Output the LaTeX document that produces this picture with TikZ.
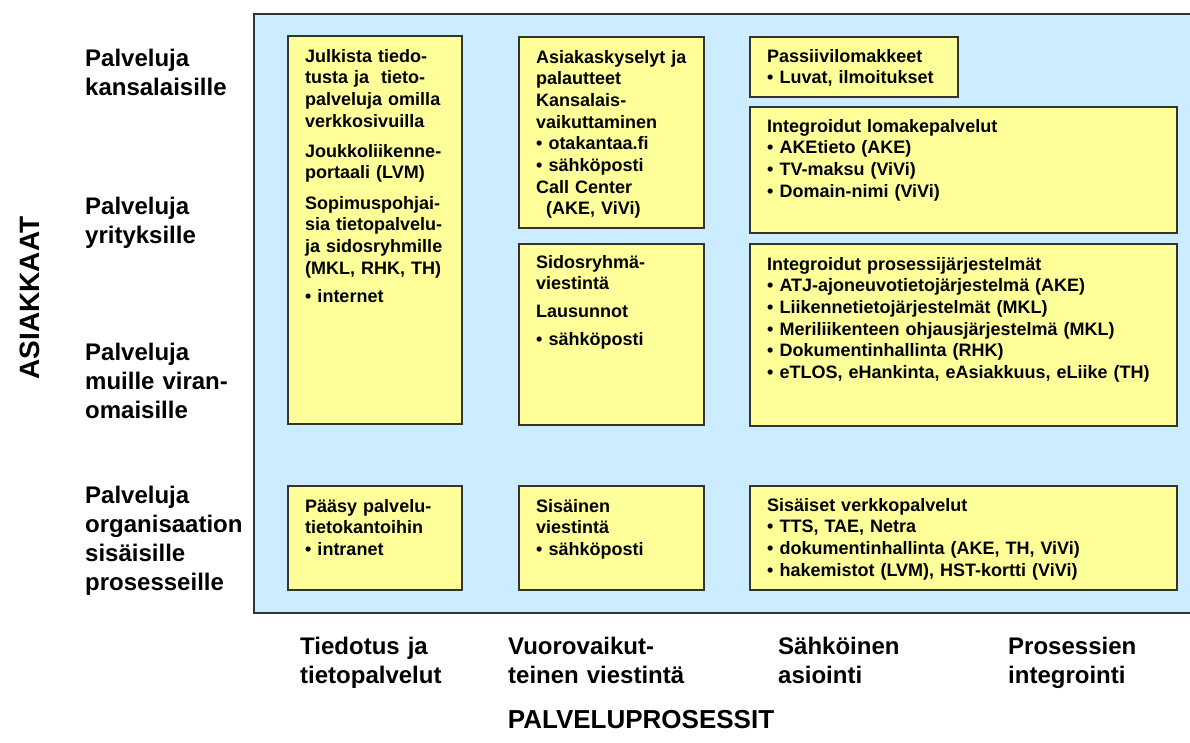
\documentclass[tikz,border=0pt]{standalone}
\usepackage{fontspec}
\setmainfont{Liberation Sans}
\definecolor{panelblue}{HTML}{CCECFF}
\definecolor{noteyellow}{HTML}{FFFF99}
\definecolor{edgegray}{HTML}{333333}
\begin{document}
\begin{tikzpicture}[x=1pt,y=-1pt,
  cell/.style={draw=edgegray, line width=1.4pt, fill=noteyellow, anchor=north west, inner sep=0pt, outer sep=0pt},
  celltext/.style={anchor=base west, inner sep=0pt, text width=420pt, align=left,
    font=\fontsize{18}{21.7}\selectfont\bfseries},
  rowlabel/.style={anchor=base west, inner sep=0pt, text width=180pt, align=left,
    font=\fontsize{24}{29}\selectfont\bfseries},
  collabel/.style={anchor=base west, inner sep=0pt, text width=200pt, align=left,
    font=\fontsize{24}{29.5}\selectfont\bfseries},
  axislabel/.style={inner sep=0pt, font=\fontsize{26}{30}\selectfont\bfseries}]

\clip (0,0) rectangle (1190,742);
\fill[white] (0,0) rectangle (1190,742);

% blue field holding the service matrix
\path[fill=panelblue, draw=edgegray, line width=2pt] (254,14) rectangle (1210,613);

% column 1: Tiedotus ja tietopalvelut
\node[cell, minimum width=174pt, minimum height=388pt] (c11) at (288,36) {};
\node[celltext] (c11t) at (305,62) {Julkista tiedo-\\tusta ja\ \ tieto-\\palveluja omilla\\verkkosivuilla\\[8.4pt]
  Joukkoliikenne-\\portaali (LVM)\\[8.4pt]
  Sopimuspohjai-\\sia tietopalvelu-\\ja sidosryhmille\\(MKL, RHK, TH)\\[6.5pt]
  • internet};

\node[cell, minimum width=174pt, minimum height=104pt] (c14) at (288,486) {};
\node[celltext] (c14t) at (305,512) {Pääsy palvelu-\\tietokantoihin\\• intranet};

% column 2: Vuorovaikutteinen viestintä
\node[cell, minimum width=185pt, minimum height=191pt] (c21) at (519,37) {};
\node[celltext] (c21t) at (536,63) {Asiakaskyselyt ja\\palautteet\\Kansalais-\\vaikuttaminen\\• otakantaa.fi\\• sähköposti\\Call Center\\\hspace*{10pt}(AKE, ViVi)};

\node[cell, minimum width=185pt, minimum height=181pt] (c22) at (519,244) {};
\node[celltext] (c22t) at (536,268) {Sidosryhmä-\\viestintä\\[6.4pt]Lausunnot\\[6.4pt]• sähköposti};

\node[cell, minimum width=185pt, minimum height=104pt] (c24) at (519,486) {};
\node[celltext] (c24t) at (536,512) {Sisäinen\\viestintä\\• sähköposti};

% columns 3-4: Sähköinen asiointi, Prosessien integrointi
\node[cell, minimum width=208pt, minimum height=60pt] (c31) at (750,37) {};
\node[celltext] (c31t) at (767,62) {Passiivilomakkeet\\• Luvat, ilmoitukset};

\node[cell, minimum width=427pt, minimum height=126pt] (c32) at (750,107) {};
\node[celltext] (c32t) at (767,132) {Integroidut lomakepalvelut\\• AKEtieto (AKE)\\• TV-maksu (ViVi)\\• Domain-nimi (ViVi)};

\node[cell, minimum width=427pt, minimum height=182pt] (c33) at (750,244) {};
\node[celltext] (c33t) at (767,270) {Integroidut prosessijärjestelmät\\• ATJ-ajoneuvotietojärjestelmä (AKE)\\• Liikennetietojärjestelmät (MKL)\\• Meriliikenteen ohjausjärjestelmä (MKL)\\• Dokumentinhallinta (RHK)\\• eTLOS, eHankinta, eAsiakkuus, eLiike (TH)};

\node[cell, minimum width=427pt, minimum height=104pt] (c34) at (750,486) {};
\node[celltext] (c34t) at (767,511) {Sisäiset verkkopalvelut\\• TTS, TAE, Netra\\• dokumentinhallinta (AKE, TH, ViVi)\\• hakemistot (LVM), HST-kortti (ViVi)};

% customer rows
\node[rowlabel] (r1) at (85,66) {Palveluja\\kansalaisille};
\node[rowlabel] (r2) at (85,214) {Palveluja\\yrityksille};
\node[rowlabel] (r3) at (85,360) {Palveluja\\muille viran-\\omaisille};
\node[rowlabel] (r4) at (85,503) {Palveluja\\organisaation\\sisäisille\\prosesseille};

% process columns
\node[collabel] (k1) at (300,654) {Tiedotus ja\\tietopalvelut};
\node[collabel] (k2) at (508,654) {Vuorovaikut-\\teinen viestintä};
\node[collabel] (k3) at (778,654) {Sähköinen\\asiointi};
\node[collabel] (k4) at (1008,654) {Prosessien\\integrointi};

% axis titles
\node[axislabel, rotate=90, font=\fontsize{28}{32}\selectfont\bfseries] (ax1) at (30,298) {ASIAKKAAT};
\node[axislabel, anchor=base] (ax2) at (641,728) {PALVELUPROSESSIT};
\end{tikzpicture}
\end{document}
